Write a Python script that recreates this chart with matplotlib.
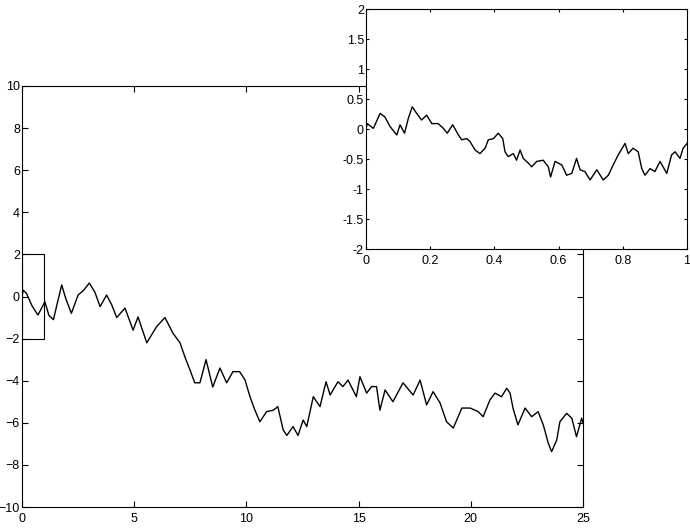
import numpy as np
import matplotlib
matplotlib.use("Agg")
import matplotlib.pyplot as plt
from matplotlib.patches import Rectangle

# main path, values (t, W(t))
main_t = [0.0, 0.05, 0.2, 0.45, 0.71, 0.85, 1.02, 1.2, 1.4, 1.6, 1.77, 1.95, 2.2, 2.5, 2.75,
          3.0, 3.25, 3.48, 3.77, 4.0, 4.22, 4.59, 4.95, 5.17, 5.56, 6.0, 6.37, 6.73, 7.04,
          7.27, 7.49, 7.7, 7.93, 8.2, 8.5, 8.82, 9.12, 9.4, 9.7, 9.94, 10.16, 10.38, 10.6,
          10.9, 11.2, 11.4, 11.64, 11.8, 12.08, 12.3, 12.53, 12.69, 12.98, 13.28, 13.55,
          13.73, 14.08, 14.3, 14.53, 14.9, 15.06, 15.36, 15.58, 15.8, 15.95, 16.18, 16.53,
          16.98, 17.43, 17.74, 18.03, 18.32, 18.63, 18.92, 19.22, 19.6, 19.97, 20.33, 20.55,
          20.85, 21.08, 21.37, 21.6, 21.75, 21.88, 22.1, 22.42, 22.71, 23.0, 23.23, 23.45,
          23.6, 23.83, 23.97, 24.27, 24.5, 24.71, 24.94, 25.0]
main_w = [0.0, 0.3, 0.15, -0.45, -0.88, -0.6, -0.25, -0.9, -1.1, -0.2, 0.55, -0.1, -0.8, 0.07, 0.3,
          0.64, 0.2, -0.48, 0.07, -0.4, -1.0, -0.55, -1.6, -0.97, -2.2, -1.43, -1.0, -1.75, -2.2,
          -2.9, -3.5, -4.1, -4.1, -3.0, -4.3, -3.4, -4.1, -3.57, -3.57, -3.97, -4.76, -5.4, -5.95,
          -5.47, -5.4, -5.23, -6.34, -6.6, -6.18, -6.6, -5.87, -6.18, -4.76, -5.23, -4.05,
          -4.68, -4.05, -4.28, -3.97, -4.76, -3.81, -4.59, -4.28, -4.28, -5.4, -4.44, -5.0,
          -4.1, -4.68, -3.97, -5.15, -4.52, -5.06, -5.95, -6.25, -5.3, -5.3, -5.47, -5.71,
          -4.92, -4.59, -4.76, -4.36, -4.59, -5.3, -6.1, -5.3, -5.71, -5.47, -6.1, -6.96,
          -7.37, -6.82, -5.95, -5.55, -5.78, -6.66, -5.78, -6.0]

# zoomed path on [0, 1]
zoom_t = [0.0, 0.004, 0.023, 0.044, 0.059, 0.075, 0.096, 0.106, 0.12, 0.132, 0.144, 0.158,
          0.173, 0.189, 0.205, 0.225, 0.241, 0.253, 0.27, 0.288, 0.298, 0.314, 0.324, 0.34,
          0.355, 0.371, 0.381, 0.397, 0.412, 0.426, 0.433, 0.443, 0.459, 0.469, 0.48, 0.49,
          0.506, 0.516, 0.532, 0.552, 0.568, 0.575, 0.589, 0.61, 0.625, 0.641, 0.656, 0.667,
          0.682, 0.698, 0.719, 0.739, 0.755, 0.77, 0.786, 0.807, 0.817, 0.832, 0.848, 0.859,
          0.869, 0.885, 0.9, 0.916, 0.937, 0.952, 0.963, 0.978, 0.988, 1.0]
zoom_w = [0.0, 0.09, 0.01, 0.26, 0.2, 0.04, -0.1, 0.07, -0.07, 0.18, 0.37, 0.26,
          0.15, 0.23, 0.09, 0.09, 0.01, -0.07, 0.07, -0.1, -0.18, -0.16, -0.21, -0.35,
          -0.41, -0.32, -0.18, -0.16, -0.07, -0.16, -0.38, -0.46, -0.41, -0.52, -0.35, -0.49,
          -0.57, -0.63, -0.54, -0.52, -0.63, -0.8, -0.54, -0.6, -0.77, -0.74, -0.49, -0.68,
          -0.71, -0.85, -0.68, -0.85, -0.77, -0.6, -0.43, -0.24, -0.41, -0.32, -0.38, -0.66,
          -0.77, -0.66, -0.71, -0.54, -0.74, -0.43, -0.38, -0.49, -0.32, -0.24]

main_xticks = [0, 5, 10, 15, 20, 25]
main_yticks = [-10, -8, -6, -4, -2, 0, 2, 4, 6, 8, 10]
zoom_xticks = [0, 0.2, 0.4, 0.6, 0.8, 1]
zoom_xlabels = ["0", "0.2", "0.4", "0.6", "0.8", "1"]
zoom_yticks = [-2, -1.5, -1, -0.5, 0, 0.5, 1, 1.5, 2]
zoom_ylabels = ["-2", "-1.5", "-1", "-0.5", "0", "0.5", "1", "1.5", "2"]


def style_axes(ax, ticklen):
    ax.tick_params(direction='in', top=True, right=True, length=ticklen, width=0.8,
                   labelsize=9, colors='black')
    ax.tick_params(axis='x', pad=4)
    ax.tick_params(axis='y', pad=1.5)
    for s in ax.spines.values():
        s.set_linewidth(0.8)


def main():
    plt.rcParams['font.family'] = ['Liberation Sans', 'DejaVu Sans']
    fig = plt.figure(figsize=(6.9, 5.28), dpi=100)

    ax = fig.add_axes([22 / 690, 21 / 528, 561 / 690, 421 / 528])
    ax.plot(main_t, main_w, color='k', linewidth=1.0)
    ax.add_patch(Rectangle((0, -2), 1, 4, fill=False, edgecolor='k', linewidth=0.8))
    ax.set_xlim(0, 25)
    ax.set_ylim(-10, 10)
    ax.set_xticks(main_xticks)
    ax.set_yticks(main_yticks)
    style_axes(ax, 4)

    axz = fig.add_axes([366 / 690, 279 / 528, 321 / 690, 240 / 528])
    axz.set_facecolor('white')
    axz.plot(zoom_t, zoom_w, color='k', linewidth=1.0)
    axz.set_xlim(0, 1)
    axz.set_ylim(-2, 2)
    axz.set_xticks(zoom_xticks)
    axz.set_xticklabels(zoom_xlabels)
    axz.set_yticks(zoom_yticks)
    axz.set_yticklabels(zoom_ylabels)
    style_axes(axz, 2.3)

    fig.savefig('out.png', dpi=100)


if __name__ == '__main__':
    main()
